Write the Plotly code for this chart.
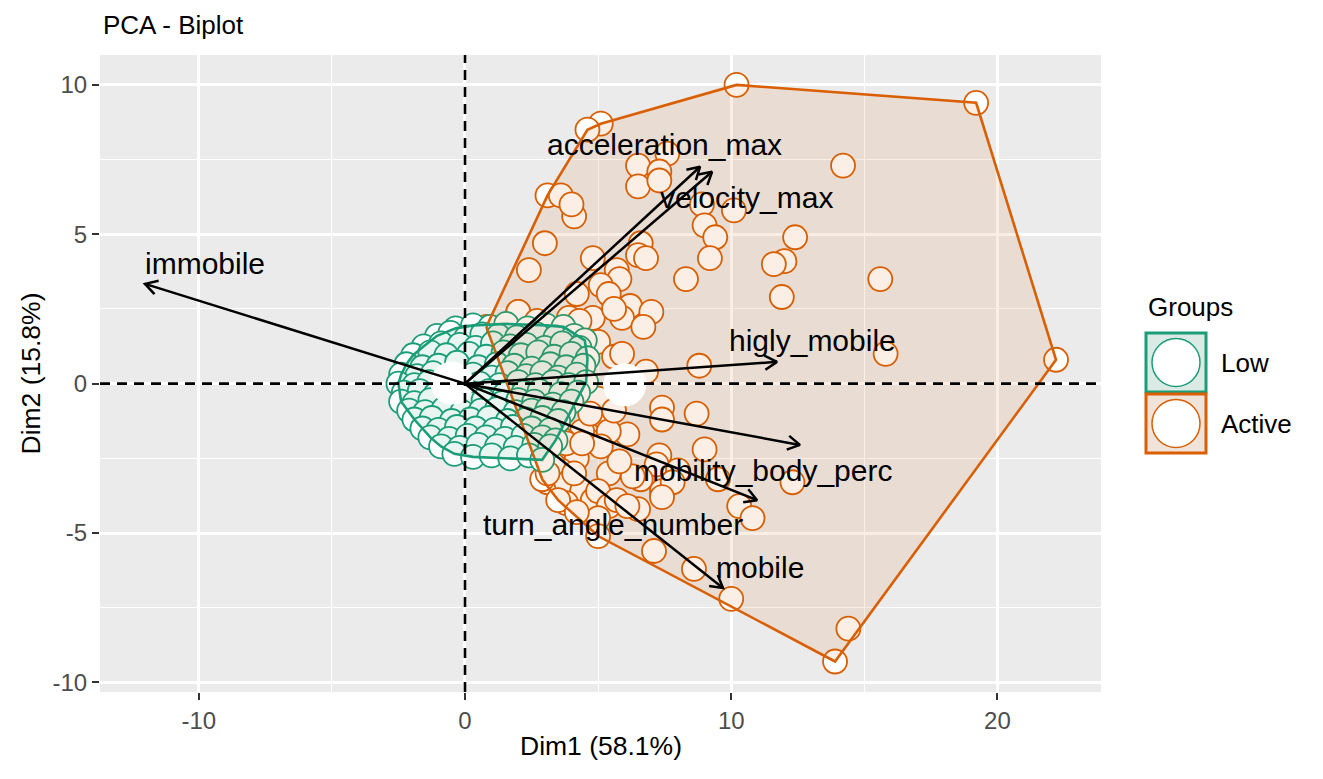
import math
import plotly.graph_objects as go

# ---------------- data ----------------
low_x = [-0.35, 0.3, 0.95, 1.55, 2.35, 3.05, 3.7,
         -1.05, -0.55, 0.05, 0.65, 1.25, 1.95, 2.7, 3.4, 4.1, 4.5,
         -1.55, -0.9, -0.2, 0.4, 1.05, 1.7, 2.3, 3.0, 3.65, 4.3,
         -1.95, -1.3, -0.7, 0.15, 0.8, 1.45, 2.1, 2.75, 3.35, 4.0, 4.6,
         -2.2, -1.6, -1.0, -0.3, 0.5, 1.2, 1.85, 2.5, 3.2, 3.8, 4.45,
         -2.4, -1.8, -1.2, 0.3, 1.0, 1.6, 2.3, 2.9, 3.5, 4.2,
         -2.5, -1.9, -1.35, 0.55, 1.3, 2.0, 2.65, 3.3, 3.9, 4.55,
         -2.3, -1.7, -1.1, 0.2, 0.9, 1.5, 2.2, 2.8, 3.6, 4.25,
         -2.4, -1.9, -1.3, -0.6, 0.1, 0.7, 1.4, 2.0, 2.6, 3.3, 4.0,
         -2.1, -1.5, -0.8, -0.1, 0.6, 1.2, 1.9, 2.5, 3.1, 3.7,
         -1.9, -1.25, -0.5, 0.2, 0.9, 1.6, 2.3, 2.9, 3.5,
         -1.6, -1.0, -0.3, 0.4, 1.1, 1.8, 2.5, 3.2,
         -1.3, -0.6, 0.1, 0.8, 1.5, 2.2, 2.9, 3.4,
         -0.9, -0.2, 0.5, 1.2, 1.9, 2.6, 3.2,
         -0.4, 0.3, 1.0, 1.7, 2.4, 2.9]
low_y = [1.85, 1.95, 1.9, 2.0, 1.85, 1.95, 1.9,
         1.6, 1.7, 1.55, 1.65, 1.6, 1.55, 1.65, 1.55, 1.6, 1.45,
         1.25, 1.35, 1.3, 1.2, 1.35, 1.25, 1.3, 1.2, 1.35, 1.2,
         0.95, 1.05, 0.95, 1.0, 0.9, 1.05, 0.95, 1.05, 0.9, 1.0, 0.85,
         0.65, 0.55, 0.6, 0.7, 0.55, 0.65, 0.6, 0.5, 0.65, 0.55, 0.6,
         0.3, 0.25, 0.35, 0.3, 0.2, 0.35, 0.25, 0.35, 0.2, 0.3,
         0.0, -0.05, 0.05, 0.0, -0.05, 0.05, -0.05, 0.05, -0.05, 0.05,
         -0.3, -0.25, -0.35, -0.3, -0.25, -0.35, -0.3, -0.25, -0.35, -0.3,
         -0.6, -0.65, -0.55, -0.6, -0.65, -0.55, -0.65, -0.55, -0.6, -0.7, -0.6,
         -0.9, -0.95, -0.85, -0.95, -0.9, -0.85, -0.95, -0.9, -0.85, -0.95,
         -1.2, -1.15, -1.25, -1.2, -1.15, -1.25, -1.2, -1.15, -1.25,
         -1.5, -1.55, -1.45, -1.5, -1.55, -1.45, -1.5, -1.55,
         -1.8, -1.85, -1.75, -1.8, -1.85, -1.75, -1.8, -1.9,
         -2.1, -2.15, -2.05, -2.1, -2.15, -2.05, -2.1,
         -2.35, -2.45, -2.4, -2.5, -2.4, -2.55]

active_x = [10.2, 19.2, 22.2, 14.4, 13.9, 10.0, 8.6, 7.1, 5.1, 4.6,
            7.6, 6.5, 7.3, 6.5, 7.3, 3.1, 3.6, 4.1, 3.0, 2.4,
            14.2, 8.9, 9.0, 9.4, 9.2, 10.1, 8.3, 12.4, 12.0, 11.6,
            11.9, 15.6, 15.8, 4.8, 6.6, 6.5, 6.8, 5.7, 5.8, 5.1,
            5.4, 4.2, 6.2, 7.0, 5.9, 4.8, 2.0, 3.9, 8.8, 6.7,
            6.8, 7.4, 8.7, 7.4, 6.1, 4.8, 5.2, 5.4, 4.4, 9.0,
            7.3, 7.2, 8.0, 6.6, 7.4, 7.8, 7.4, 6.3, 5.4, 5.8,
            5.1, 4.2, 3.7, 2.7, 3.1, 3.6, 3.1, 3.8, 4.4, 4.8,
            5.0, 5.4, 5.7, 6.5, 6.1, 5.0, 9.5, 10.3, 10.8, 12.3,
            3.8, 2.9, 3.5, 4.2, 2.0, 2.7, 4.3, 5.6, 5.0, 5.6,
            5.9, 5.0, 5.6, 4.7, 3.8, 4.4, 3.3, 4.1, 3.1, 0.8,
            5.0, 4.0]
active_y = [10.0, 9.4, 0.8, -8.2, -9.3, -7.2, -6.2, -5.6, 8.7, 8.5,
            7.7, 7.3, 7.1, 6.6, 6.8, 6.3, 6.3, 5.6, 4.7, 3.8,
            7.3, 6.0, 5.3, 4.9, 4.2, 5.8, 3.5, 4.9, 4.1, 4.0,
            2.9, 3.5, 1.0, 4.2, 4.7, 4.3, 4.2, 3.8, 3.5, 3.3,
            3.0, 3.0, 2.6, 2.4, 2.2, 2.2, 2.4, 2.2, 0.6, 1.9,
            0.4, -0.8, -1.0, -1.2, -1.7, -1.2, -1.1, -1.6, -1.6, -2.2,
            -2.4, -2.7, -2.9, -3.2, -3.6, -3.3, -3.8, -3.1, -3.0, -2.6,
            -2.1, -2.5, -1.9, -1.6, -2.5, -2.9, -3.3, -3.3, -3.6, -3.9,
            -3.6, -4.1, -3.9, -4.2, -4.1, -4.5, -3.2, -4.1, -4.5, -3.3,
            -4.0, -3.2, -3.9, -4.3, 2.4, 2.1, 2.1, 2.5, 1.4, 0.9,
            1.0, -0.5, -0.9, -1.0, -2.0, -2.0, -2.7, -3.0, -3.0, 1.9,
            -5.1, 6.0]

mean_groups = ["Low", "Active"]
mean_x = [-0.49, 6.0]
mean_y = [0.02, -0.04]

var_names = ["immobile", "acceleration_max", "velocity_max", "higly_mobile",
             "mobility_body_perc", "turn_angle_number", "mobile"]
var_x = [-12.02, 8.83, 9.28, 11.72, 12.58, 10.97, 9.69]
var_y = [3.34, 7.26, 7.09, 0.73, -2.05, -3.90, -6.84]
label_x = [-9.77, 7.51, 10.59, 13.04, 11.19, 5.56, 11.08]
label_y = [4.01, 7.99, 6.22, 1.43, -2.92, -4.73, -6.14]

x_ticks = [-10, 0, 10, 20]
y_ticks = [-10, -5, 0, 5, 10]
x_title = "Dim1 (58.1%)"
y_title = "Dim2 (15.8%)"
title = "PCA - Biplot"

# ---------------- styling / layout ----------------
GREEN = "#1B9E77"
ORANGE = "#D95F02"
FONT = "Liberation Sans, Arial, Helvetica, sans-serif"
W, H = 1323, 779
ML, MR, MT, MB = 100, 222, 55, 87
PW, PH = W - ML - MR, H - MT - MB
XR = [-13.71, 23.89]
YR = [-10.32, 11.0]
SX = PW / (XR[1] - XR[0])
SY = PH / (YR[1] - YR[0])


def hull(xs, ys):
    pts = sorted(set(zip(xs, ys)))

    def cross(o, a, b):
        return (a[0] - o[0]) * (b[1] - o[1]) - (a[1] - o[1]) * (b[0] - o[0])
    lower, upper = [], []
    for p in pts:
        while len(lower) >= 2 and cross(lower[-2], lower[-1], p) <= 0:
            lower.pop()
        lower.append(p)
    for p in reversed(pts):
        while len(upper) >= 2 and cross(upper[-2], upper[-1], p) <= 0:
            upper.pop()
        upper.append(p)
    h = lower[:-1] + upper[:-1]
    h.append(h[0])
    return [p[0] for p in h], [p[1] for p in h]


fig = go.Figure()

# points (white filled, tinted by hull drawn above)
fig.add_trace(go.Scatter(x=active_x, y=active_y, mode="markers", showlegend=False,
                         marker=dict(size=24, color="white", line=dict(color=ORANGE, width=1.8))))
fig.add_trace(go.Scatter(x=low_x, y=low_y, mode="markers", showlegend=False,
                         marker=dict(size=24, color="white", line=dict(color=GREEN, width=1.8))))

# convex hulls
hx, hy = hull(active_x, active_y)
fig.add_trace(go.Scatter(x=hx, y=hy, mode="lines", fill="toself", showlegend=False,
                         fillcolor="rgba(217,95,2,0.1)", line=dict(color=ORANGE, width=2.6)))
hx, hy = hull(low_x, low_y)
fig.add_trace(go.Scatter(x=hx, y=hy, mode="lines", fill="toself", showlegend=False,
                         fillcolor="rgba(27,158,119,0.1)", line=dict(color=GREEN, width=2.6)))

# group means
fig.add_trace(go.Scatter(x=mean_x, y=mean_y, mode="markers", showlegend=False,
                         marker=dict(size=43, color="white", line=dict(color="white", width=0))))

# variable arrows with open heads
L = 14
for vx, vy in zip(var_x, var_y):
    ang = math.atan2(vy * SY, vx * SX)
    xs, ys = [0, vx, None], [0, vy, None]
    for d in (math.pi / 6, -math.pi / 6):
        a = ang + math.pi + d
        xs.append(vx + L * math.cos(a) / SX)
        ys.append(vy + L * math.sin(a) / SY)
        if d > 0:
            xs.append(vx)
            ys.append(vy)
    fig.add_trace(go.Scatter(x=xs, y=ys, mode="lines", showlegend=False,
                             line=dict(color="black", width=2.5)))

annotations = []
for name, lx, ly in zip(var_names, label_x, label_y):
    annotations.append(dict(x=lx, y=ly, xref="x", yref="y", text=name, showarrow=False,
                            xanchor="center", yanchor="middle",
                            font=dict(family=FONT, size=30, color="black")))

# dashed reference lines
shapes = [
    dict(type="line", xref="x", yref="paper", x0=0, x1=0, y0=0, y1=1, layer="above",
         line=dict(color="black", width=2.6, dash="10px,7px")),
    dict(type="line", xref="paper", yref="y", x0=0, x1=1, y0=0, y1=0, layer="above",
         line=dict(color="black", width=2.6, dash="10px,7px")),
]


def ppx(x):
    return (x - ML) / PW


def ppy(y):
    return (H - MB - y) / PH


# manual legend
legend_items = [("Low", GREEN, "#DCEAE6", 333, 392), ("Active", ORANGE, "#F0E3DA", 394, 453)]
for lab, col, fillc, top, bot in legend_items:
    shapes.append(dict(type="rect", xref="paper", yref="paper",
                       x0=ppx(1146), x1=ppx(1206), y0=ppy(bot), y1=ppy(top),
                       fillcolor=fillc, line=dict(color=col, width=3)))
    cy = (top + bot) / 2
    shapes.append(dict(type="circle", xref="paper", yref="paper",
                       x0=ppx(1152), x1=ppx(1200), y0=ppy(cy + 24), y1=ppy(cy - 24),
                       fillcolor="white", line=dict(color=col, width=1.5)))
    annotations.append(dict(x=ppx(1219), y=ppy(cy), xref="paper", yref="paper", text=lab,
                            showarrow=False, xanchor="left", yanchor="middle",
                            font=dict(family=FONT, size=26, color="black")))
annotations.append(dict(x=ppx(1146), y=ppy(307), xref="paper", yref="paper", text="Groups",
                        showarrow=False, xanchor="left", yanchor="middle",
                        font=dict(family=FONT, size=26, color="black")))

# axis titles
annotations.append(dict(x=0.5, y=ppy(746), xref="paper", yref="paper", text=x_title,
                        showarrow=False, xanchor="center", yanchor="middle",
                        font=dict(family=FONT, size=26.5, color="black")))
annotations.append(dict(x=ppx(30), y=0.5, xref="paper", yref="paper", text=y_title,
                        showarrow=False, xanchor="center", yanchor="middle", textangle=-90,
                        font=dict(family=FONT, size=26.5, color="black")))
annotations.append(dict(x=ppx(101), y=ppy(25), xref="paper", yref="paper", text=title,
                        showarrow=False, xanchor="left", yanchor="middle",
                        font=dict(family=FONT, size=26, color="black")))

axis_common = dict(showline=False, zeroline=False, showgrid=True, gridcolor="white",
                   gridwidth=2.5, ticks="outside", ticklen=7, tickwidth=2,
                   tickcolor="#333333", tickfont=dict(family=FONT, size=24, color="#4D4D4D"))
fig.update_layout(
    width=W, height=H, autosize=False,
    margin=dict(l=ML, r=MR, t=MT, b=MB),
    paper_bgcolor="white", plot_bgcolor="#EBEBEB",
    showlegend=False,
    xaxis=dict(range=XR, tickvals=x_ticks, ticktext=[str(v) for v in x_ticks],
               minor=dict(dtick=5, tick0=0, showgrid=True, gridcolor="white", gridwidth=1.2, ticks=""),
               **axis_common),
    yaxis=dict(range=YR, tickvals=y_ticks, ticktext=[str(v) for v in y_ticks],
               minor=dict(dtick=2.5, tick0=0, showgrid=True, gridcolor="white", gridwidth=1.2, ticks=""),
               **axis_common),
    shapes=shapes,
    annotations=annotations,
)

fig.write_html("out.html")
